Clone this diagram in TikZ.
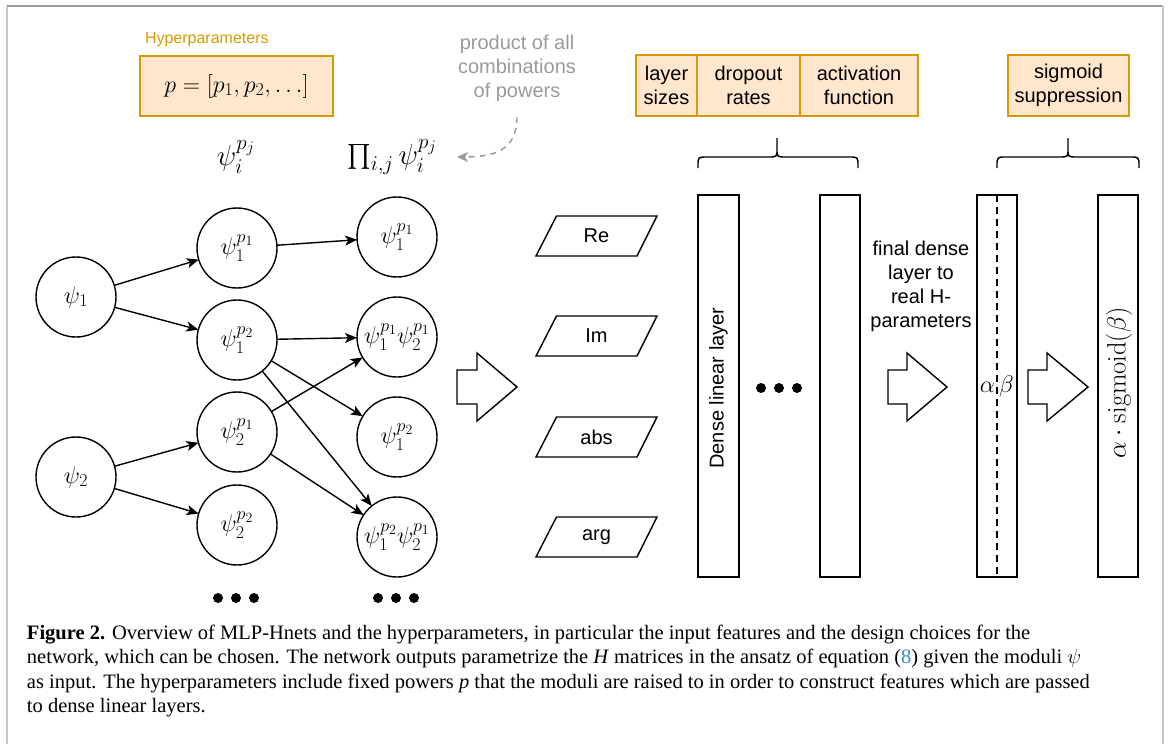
\documentclass[tikz,border=0pt]{standalone}
\usepackage{fix-cm}
\usepackage{amsmath}
\usepackage[no-math]{fontspec}
\setmainfont{Liberation Serif}
\newfontfamily\sansf{Liberation Sans}
\usetikzlibrary{arrows.meta}
\definecolor{orng}{HTML}{D79B00}
\definecolor{orfill}{HTML}{FFE6CC}
\definecolor{grtxt}{HTML}{9A9A9A}
\definecolor{frameside}{HTML}{C8C8C8}
\definecolor{linkc}{HTML}{2C8FC9}
\DeclareMathSizes{24}{24}{18}{14}
\DeclareMathSizes{29}{29}{21}{16}
\DeclareMathSizes{26.5}{26.5}{19}{14}
\begin{document}
\begin{tikzpicture}[x=1pt,y=-1pt,
  every node/.style={inner sep=0pt, outer sep=0pt},
  circ/.style={circle, draw, line width=1.4pt, minimum size=80pt, font=\fontsize{24}{28}\selectfont},
  hbox/.style={draw=orng, fill=orfill, line width=1.6pt, align=center, font=\sansf\fontsize{20}{24}\selectfont},
  lab/.style={align=center, font=\sansf\fontsize{20}{24}\selectfont},
  conn/.style={line width=1.4pt, -{Stealth[length=12pt,width=10pt,inset=3pt]}},
  layerbox/.style={draw, line width=1.4pt, minimum height=382pt},
  blk/.style={draw, line width=1.4pt, fill=white, line join=miter},
  para/.style={draw, line width=1.4pt, line join=miter},
  capline/.style={anchor=base west, font=\fontsize{20.5}{24}\selectfont},
]
\useasboundingbox (0,0) rectangle (1170,744);
% frame
\draw[frameside, line width=1.5pt] (7,744) -- (7,6);
\draw[grtxt, line width=1.5pt] (7,6) -- (1163,6);
\draw[frameside, line width=1.5pt] (1163,6) -- (1163,744);

% hyperparameters
\node[anchor=west, text=orng, font=\sansf\fontsize{16}{19}\selectfont] (hyplab) at (145,40) {Hyperparameters};
\node[hbox, minimum width=193pt, minimum height=60pt, font=\fontsize{24}{28}\selectfont] (hyp) at (236.5,86) {$p=[p_1,p_2,\ldots]$};
\node[font=\fontsize{29}{32}\selectfont] (psiij) at (236,157) {$\psi_i^{p_j}$};
\node[font=\fontsize{29}{32}\selectfont] (prodij) at (392,157) {$\prod_{i,j}\psi_i^{p_j}$};
\node[lab, text=grtxt] (prodlab) at (517,68) {product of all\\combinations\\of powers};
\coordinate (pcs) at (517,117);
\coordinate (pce) at (457,157);
\draw[grtxt, line width=1.4pt, dash pattern=on 6pt off 5pt, -{Stealth[length=11pt,width=10pt,inset=3pt]}] (pcs) .. controls (517,150) and (495,157) .. (pce);

% network options
\node[hbox, minimum width=61pt, minimum height=61pt] (ls) at (666.5,85.5) {layer\\sizes};
\node[hbox, minimum width=103pt, minimum height=61pt] (dr) at (748.5,85.5) {dropout\\rates};
\node[hbox, minimum width=118pt, minimum height=61pt] (af) at (859,85.5) {activation\\function};
\node[hbox, minimum width=121pt, minimum height=61pt] (ss) at (1068.5,85.5) {sigmoid\\suppression};

% braces
\draw[line width=1.4pt] (698,168) -- (698,166) .. controls (698,157) .. (707,157) -- (768,157) .. controls (777,157) .. (777,149) -- (777,138)
  (777,149) .. controls (777,157) .. (786,157) -- (849,157) .. controls (858,157) .. (858,166) -- (858,168);
\draw[line width=1.4pt] (997,168) -- (997,166) .. controls (997,157) .. (1006,157) -- (1059,157) .. controls (1068,157) .. (1068,149) -- (1068,138)
  (1068,149) .. controls (1068,157) .. (1077,157) -- (1130,157) .. controls (1139,157) .. (1139,166) -- (1139,168);

% circles
\node[circ] (p1) at (76,297) {$\psi_1$};
\node[circ] (p2) at (76,477) {$\psi_2$};
\node[circ] (a1) at (237,248) {$\psi_1^{p_1}$};
\node[circ] (a2) at (237,340) {$\psi_1^{p_2}$};
\node[circ] (a3) at (237,432) {$\psi_2^{p_1}$};
\node[circ] (a4) at (237,525) {$\psi_2^{p_2}$};
\node[circ] (b1) at (397,237) {$\psi_1^{p_1}$};
\node[circ] (b2) at (397,337) {$\psi_1^{p_1}\psi_2^{p_1}$};
\node[circ] (b3) at (397,437) {$\psi_1^{p_2}$};
\node[circ] (b4) at (397,537) {$\psi_1^{p_2}\psi_2^{p_1}$};

\draw[conn] (p1) -- (a1);
\draw[conn] (p1) -- (a2);
\draw[conn] (p2) -- (a3);
\draw[conn] (p2) -- (a4);
\draw[conn] (a1) -- (b1);
\draw[conn] (a2) -- (b2);
\draw[conn] (a3) -- (b2);
\draw[conn] (a2) -- (b3);
\draw[conn] (a2) -- (b4);
\draw[conn] (a3) -- (b4);

% dots
\foreach \x in {218,236,254} \fill (\x,598) circle (5pt);
\foreach \x in {378,396,414} \fill (\x,598) circle (5pt);
\foreach \x in {761,779,797} \fill (\x,388) circle (5pt);

% block arrow 1
\draw[blk] (457,370) -- (477,370) -- (477,353) -- (517,387) -- (477,421) -- (477,404) -- (457,404) -- cycle;

% parallelograms
\foreach \nm/\txt/\cy in {re/Re/236, im/Im/336, ab/abs/437, ar/arg/537}{
  \draw[para] (556.5,\cy-20) -- (657,\cy-20) -- (637,\cy+20) -- (536,\cy+20) -- cycle;
  \node[lab] (\nm) at (596.5,\cy) {\txt};
}

% dense layers
\node[layerbox, minimum width=41pt] (d1) at (718.5,386) {};
\node[lab, rotate=90] (d1lab) at (718.5,388) {Dense linear layer};
\node[layerbox, minimum width=40pt] (d2) at (840,386) {};

\node[lab] (finlab) at (921,286) {final dense\\layer to\\real H-\\parameters};
\draw[blk] (888,370) -- (907,370) -- (907,353) -- (947,387) -- (907,421) -- (907,404) -- (888,404) -- cycle;

\node[layerbox, minimum width=40pt] (r1) at (997,386) {};
\draw[line width=1.4pt, dash pattern=on 7pt off 5pt] (r1.north) -- (r1.south);
\node[font=\fontsize{24}{28}\selectfont, anchor=east] (alph) at (995,387) {$\alpha$};
\node[font=\fontsize{24}{28}\selectfont, anchor=west] (bet) at (999,386) {$\beta$};

\draw[blk] (1028,370) -- (1047,370) -- (1047,353) -- (1088,387) -- (1047,421) -- (1047,404) -- (1028,404) -- cycle;

\node[layerbox, minimum width=40pt] (r2) at (1118,386) {};
\node[rotate=90, font=\fontsize{26.5}{30}\selectfont] (sigl) at (1119,383) {$\alpha\cdot\mathrm{sigmoid}(\beta)$};

% caption
\node[capline] (c1) at (27,639) {\textbf{Figure 2.} Overview of MLP-Hnets and the hyperparameters, in particular the input features and the design choices for the};
\node[capline] (c2) at (27,663) {network, which can be chosen. The network outputs parametrize the \textit{H} matrices in the ansatz of equation ({\color{linkc}8}) given the moduli $\psi$};
\node[capline] (c3) at (27,688) {as input. The hyperparameters include fixed powers \textit{p} that the moduli are raised to in order to construct features which are passed};
\node[capline] (c4) at (27,712) {to dense linear layers.};
\end{tikzpicture}
\end{document}
